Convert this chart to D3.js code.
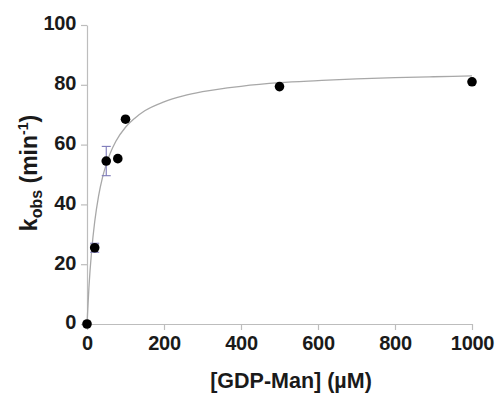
<!DOCTYPE html>
<html><head><meta charset="utf-8">
<script src="https://cdn.jsdelivr.net/npm/d3@7"></script>
<style>body{margin:0;background:#fff}svg{display:block}</style>
</head><body>
<svg id="c" width="497" height="394"></svg>
<script>
// measured data
const conc = [0, 20, 50, 80, 100, 500, 1000];
const kobs = [0, 25.5, 54.5, 55.3, 68.5, 79.4, 81.0];
const errLow = [null, 24.0, 49.6, null, null, null, null];
const errHigh = [null, 27.0, 59.4, null, null, null, null];
// fitted curve
const fitX = [0, 5, 12, 20, 30, 40, 50, 60, 75, 100, 125, 150, 200, 250, 300, 400, 500, 600, 700, 800, 900, 1000];
const fitY = [0, 12.2, 24.4, 34.2, 42.8, 48.9, 53.4, 57.0, 61.1, 65.8, 68.9, 71.3, 74.3, 76.3, 77.7, 79.5, 80.7, 81.4, 82.0, 82.4, 82.7, 83.0];
const xTicks = [0, 200, 400, 600, 800, 1000];
const yTicks = [0, 20, 40, 60, 80, 100];

const svg = d3.select("#c");
const x = d3.scaleLinear().domain([0, 1000]).range([87, 472]);
const y = d3.scaleLinear().domain([0, 100]).range([324, 25]);
const axisCol = "#bdbdbd";
const font = "'Liberation Sans', Arial, sans-serif";

const xa = svg.append("g").attr("transform", "translate(0,324)")
  .call(d3.axisBottom(x).tickValues(xTicks).tickFormat(d3.format("d")).tickSize(6).tickPadding(5).tickSizeOuter(0));
const ya = svg.append("g").attr("transform", "translate(87,0)")
  .call(d3.axisLeft(y).tickValues(yTicks).tickFormat(d3.format("d")).tickSize(6).tickPadding(5).tickSizeOuter(0));
[xa, ya].forEach(g => {
  g.selectAll("path, line").attr("stroke", axisCol).attr("stroke-width", 1.2);
  g.selectAll("text").attr("fill", "#1a1a1a").style("font-family", font)
    .style("font-weight", "bold").style("font-size", "20px").style("letter-spacing", "-0.3px");
});
xa.selectAll("text").attr("dy", "0.75em");
ya.selectAll("text").attr("dy", "0.24em");

// fit curve
const pts = fitX.map((v, i) => [v, fitY[i]]);
svg.append("path").datum(pts)
  .attr("fill", "none").attr("stroke", "#a8a8a8").attr("stroke-width", 1.3)
  .attr("d", d3.line().x(d => x(d[0])).y(d => y(d[1])).curve(d3.curveMonotoneX));

// error bars
const eb = conc.map((c, i) => ({c, lo: errLow[i], hi: errHigh[i]})).filter(d => d.lo != null);
const eg = svg.append("g").attr("stroke", "#7b78b8").attr("stroke-width", 1.1);
eb.forEach(d => {
  eg.append("line").attr("x1", x(d.c)).attr("x2", x(d.c)).attr("y1", y(d.lo)).attr("y2", y(d.hi));
  [d.lo, d.hi].forEach(v => eg.append("line").attr("x1", x(d.c) - 4.5).attr("x2", x(d.c) + 4.5).attr("y1", y(v)).attr("y2", y(v)));
});

// points
svg.append("g").selectAll("circle").data(conc.map((c, i) => [c, kobs[i]])).join("circle")
  .attr("cx", d => x(d[0])).attr("cy", d => y(d[1])).attr("r", 4.8).attr("fill", "#000");

// axis labels
svg.append("text").attr("x", 291).attr("y", 388).attr("text-anchor", "middle")
  .style("font-family", font).style("font-weight", "bold").style("font-size", "21.5px").attr("fill", "#1a1a1a")
  .text("[GDP-Man] (µM)");
const yl = svg.append("text").attr("transform", "translate(37,173) rotate(-90)").attr("text-anchor", "middle")
  .style("font-family", font).style("font-weight", "bold").style("font-size", "23px").attr("fill", "#1a1a1a");
yl.append("tspan").text("k");
yl.append("tspan").text("obs").style("font-size", "16px").attr("dy", "5");
yl.append("tspan").text(" (min").attr("dy", "-5");
yl.append("tspan").text("-1").style("font-size", "14px").attr("dy", "-9");
yl.append("tspan").text(")").attr("dy", "9");
</script>
</body></html>
